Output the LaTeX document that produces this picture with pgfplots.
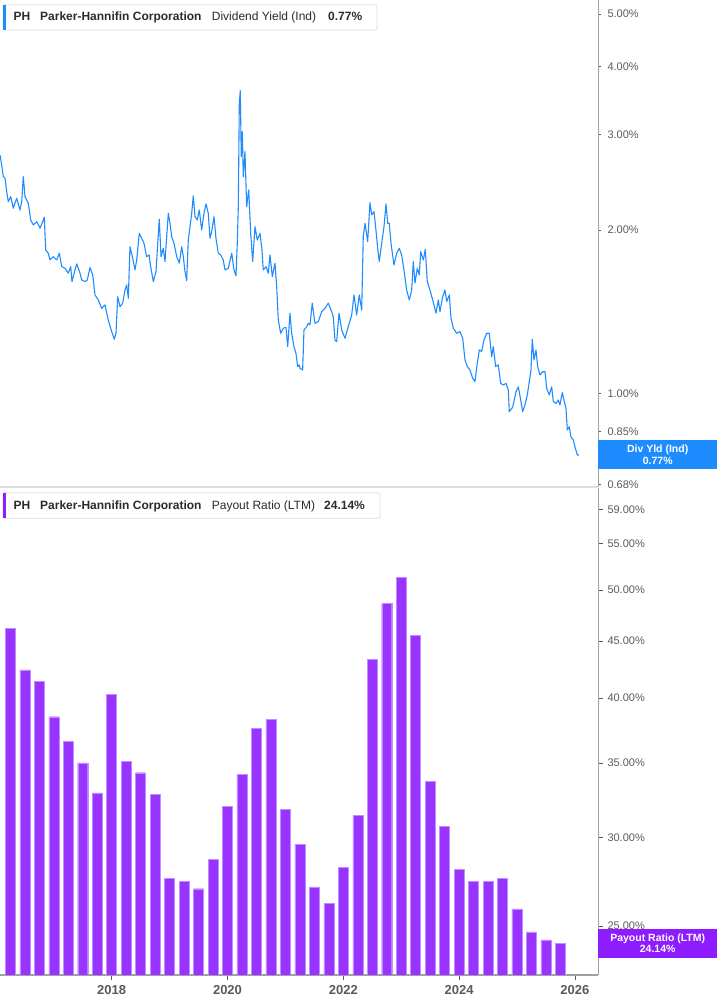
\documentclass[border=0pt]{standalone}
\usepackage{pgfplots}
\pgfplotsset{compat=1.18}
\usepackage{fontspec}
\setmainfont{Liberation Sans}

\definecolor{ylblue}{HTML}{1E8CFF}
\definecolor{barpurple}{HTML}{9933FF}
\definecolor{baredge}{HTML}{C08CFF}
\definecolor{boxpurple}{HTML}{8E1CFF}
\definecolor{axgray}{HTML}{A0A0A0}
\definecolor{sepgray}{HTML}{DEDEDE}
\definecolor{lblgray}{HTML}{5A5A5A}
\definecolor{txt}{HTML}{2B2B2B}

\begin{document}
\begin{tikzpicture}
\useasboundingbox (0pt,0pt) rectangle (717pt,1005pt);

% dividend yield, log scale
\begin{axis}[at={(0pt,518pt)}, anchor=south west,
  scale only axis, width=598pt, height=487pt,
  xmin=2016.071, xmax=2026.399,
  ymode=log, ymin=0.672, ymax=5.306,
  axis x line*=bottom, axis y line*=right,
  x axis line style={draw=sepgray, line width=1.8pt},
  y axis line style={draw=axgray, line width=1pt},
  tick align=outside, major tick length=3pt, minor tick length=0pt,
  xtick=\empty,
  ytick={0.68,0.85,1,2,3,4,5},
  yticklabels={0.68\%,0.85\%,1.00\%,2.00\%,3.00\%,4.00\%,5.00\%},
  ytick style={draw=lblgray, line width=0.6pt},
  yticklabel style={font=\fontsize{11}{13}\selectfont, text=lblgray, anchor=west, xshift=3pt}]
\addplot[ylblue, line width=1.1pt, line join=round] table[x=t, y=v] {
t v
2016.071 2.750
2016.100 2.635
2016.128 2.507
2016.157 2.493
2016.187 2.353
2016.214 2.255
2016.256 2.304
2016.301 2.193
2016.359 2.288
2016.416 2.177
2016.446 2.255
2016.473 2.507
2016.503 2.304
2016.560 2.240
2016.601 2.086
2016.646 2.043
2016.705 2.071
2016.762 2.015
2016.808 2.071
2016.836 2.111
2016.860 1.837
2016.905 1.812
2016.935 1.761
2016.991 1.786
2017.050 1.761
2017.095 1.812
2017.137 1.712
2017.194 1.700
2017.251 1.665
2017.292 1.712
2017.314 1.606
2017.366 1.688
2017.396 1.732
2017.453 1.665
2017.482 1.618
2017.539 1.606
2017.579 1.618
2017.625 1.705
2017.672 1.653
2017.712 1.518
2017.769 1.486
2017.827 1.434
2017.884 1.455
2017.941 1.365
2018.000 1.299
2018.045 1.258
2018.074 1.290
2018.104 1.507
2018.143 1.444
2018.190 1.466
2018.230 1.550
2018.259 1.584
2018.287 1.497
2018.316 1.863
2018.363 1.774
2018.402 1.688
2018.432 1.761
2018.477 1.972
2018.518 1.930
2018.558 1.890
2018.604 1.786
2018.649 1.799
2018.662 1.741
2018.719 1.606
2018.765 1.676
2018.788 1.837
2018.822 2.092
2018.852 1.786
2018.891 1.850
2018.921 1.749
2018.950 1.944
2018.978 2.147
2019.007 2.058
2019.036 1.944
2019.076 1.890
2019.123 1.786
2019.168 1.737
2019.209 1.863
2019.237 1.786
2019.266 1.676
2019.295 1.613
2019.323 1.916
2019.352 2.028
2019.382 2.147
2019.409 2.311
2019.439 2.116
2019.478 2.086
2019.513 2.177
2019.554 2.000
2019.594 2.147
2019.629 2.233
2019.668 2.147
2019.698 1.930
2019.727 1.986
2019.767 2.116
2019.801 1.930
2019.841 1.812
2019.882 1.799
2019.927 1.761
2019.957 1.688
2020.014 1.700
2020.073 1.812
2020.112 1.688
2020.147 1.646
2020.169 1.890
2020.187 2.208
2020.204 3.424
2020.221 3.612
2020.238 2.730
2020.256 3.035
2020.273 2.507
2020.302 2.788
2020.331 2.208
2020.366 2.370
2020.401 1.972
2020.435 1.749
2020.475 2.028
2020.515 1.916
2020.561 1.972
2020.596 1.837
2020.618 1.688
2020.665 1.712
2020.705 1.665
2020.734 1.799
2020.774 1.641
2020.820 1.737
2020.850 1.572
2020.877 1.365
2020.919 1.290
2020.964 1.318
2021.010 1.323
2021.040 1.219
2021.079 1.405
2021.109 1.290
2021.148 1.219
2021.183 1.185
2021.212 1.120
2021.240 1.128
2021.252 1.112
2021.298 1.104
2021.321 1.308
2021.368 1.327
2021.395 1.346
2021.425 1.337
2021.464 1.466
2021.511 1.346
2021.568 1.355
2021.627 1.414
2021.684 1.434
2021.741 1.466
2021.800 1.414
2021.827 1.384
2021.856 1.254
2021.886 1.245
2021.926 1.405
2021.972 1.308
2022.029 1.263
2022.086 1.327
2022.145 1.394
2022.185 1.518
2022.231 1.394
2022.276 1.518
2022.318 1.424
2022.345 1.944
2022.375 2.058
2022.421 1.903
2022.461 2.246
2022.490 2.132
2022.530 2.162
2022.564 2.000
2022.594 1.850
2022.621 1.749
2022.663 1.890
2022.703 2.028
2022.738 2.233
2022.767 2.058
2022.794 2.058
2022.824 1.890
2022.875 1.724
2022.922 1.812
2022.967 1.850
2023.008 1.799
2023.048 1.688
2023.094 1.550
2023.140 1.486
2023.181 1.550
2023.209 1.749
2023.238 1.596
2023.278 1.700
2023.312 1.653
2023.337 1.824
2023.382 1.761
2023.416 1.842
2023.451 1.606
2023.497 1.550
2023.544 1.486
2023.601 1.405
2023.641 1.486
2023.670 1.414
2023.716 1.507
2023.756 1.550
2023.786 1.476
2023.831 1.518
2023.860 1.377
2023.900 1.318
2023.959 1.290
2024.015 1.299
2024.062 1.263
2024.102 1.152
2024.142 1.120
2024.188 1.104
2024.235 1.066
2024.274 1.051
2024.314 1.136
2024.349 1.202
2024.390 1.194
2024.430 1.254
2024.476 1.290
2024.521 1.290
2024.563 1.168
2024.590 1.219
2024.632 1.120
2024.677 1.128
2024.718 1.043
2024.763 1.036
2024.810 1.043
2024.850 1.014
2024.867 0.925
2024.926 0.943
2024.983 1.007
2025.023 1.028
2025.064 0.972
2025.098 0.925
2025.138 0.952
2025.178 0.993
2025.212 1.051
2025.242 1.104
2025.264 1.258
2025.293 1.152
2025.328 1.202
2025.357 1.120
2025.397 1.081
2025.444 1.096
2025.483 1.096
2025.513 1.021
2025.557 0.993
2025.599 1.028
2025.627 0.965
2025.673 0.958
2025.713 0.972
2025.742 0.952
2025.782 1.003
2025.817 0.965
2025.846 0.938
2025.869 0.856
2025.903 0.868
2025.932 0.831
2025.972 0.820
2026.001 0.797
2026.041 0.770
2026.070 0.770
};
\coordinate (dy) at (axis cs:2026.399,0.77);
\end{axis}

% payout ratio, quarterly bars
\begin{axis}[at={(0pt,30pt)}, anchor=south west,
  scale only axis, width=598pt, height=487pt,
  xmin=2016.071, xmax=2026.399,
  ymode=log, ymin=22.6, ymax=61.7, log origin=infty,
  axis x line*=bottom, axis y line*=right,
  x axis line style={draw=axgray, line width=1.2pt},
  y axis line style={draw=axgray, line width=1pt},
  tick align=outside, major tick length=5pt, minor tick length=0pt,
  xtick={2018,2020,2022,2024,2026},
  xticklabels={2018,2020,2022,2024,2026},
  xtick style={draw=lblgray, line width=0.8pt},
  xticklabel style={font=\bfseries\fontsize{13}{15}\selectfont, text=lblgray, yshift=-2pt},
  ytick={25,30,35,40,45,50,55,59},
  yticklabels={25.00\%,30.00\%,35.00\%,40.00\%,45.00\%,50.00\%,55.00\%,59.00\%},
  ytick style={draw=lblgray, line width=0.6pt},
  yticklabel style={font=\fontsize{11}{13}\selectfont, text=lblgray, anchor=west, xshift=1pt}]
\addplot[ybar, bar width=10pt, fill=barpurple, draw=baredge, line width=0.4pt] coordinates {
(2015.97,41.1) (2016.25,46.2) (2016.50,42.4) (2016.75,41.4)
(2017.00,38.5) (2017.25,36.6) (2017.50,35.0) (2017.75,32.9)
(2018.00,40.3) (2018.25,35.1) (2018.50,34.3) (2018.75,32.8)
(2019.00,27.6) (2019.25,27.4) (2019.50,27.0) (2019.75,28.7)
(2020.00,32.0) (2020.25,34.2) (2020.50,37.6) (2020.75,38.3)
(2021.00,31.8) (2021.25,29.6) (2021.50,27.1) (2021.75,26.2)
(2022.00,28.2) (2022.25,31.4) (2022.50,43.3) (2022.75,48.6)
(2023.00,51.3) (2023.25,45.5) (2023.50,33.7) (2023.75,30.7)
(2024.00,28.1) (2024.25,27.4) (2024.50,27.4) (2024.75,27.6)
(2025.00,25.9) (2025.25,24.7) (2025.50,24.3) (2025.75,24.14)
};
\coordinate (pr) at (axis cs:2026.399,24.14);
\end{axis}

% value boxes on the right axis
\node[fill=ylblue, text=white, font=\bfseries\fontsize{10.5}{11.5}\selectfont, align=center,
  anchor=west, minimum width=119pt, minimum height=29pt, inner sep=0pt] at (dy) {Div Yld (Ind)\\0.77\%};
\node[fill=boxpurple, text=white, font=\bfseries\fontsize{10.5}{11.5}\selectfont, align=center,
  anchor=west, minimum width=119pt, minimum height=29pt, inner sep=0pt] at (pr) {Payout Ratio (LTM)\\24.14\%};

% legend boxes
\draw[sepgray, fill=white, rounded corners=2pt, line width=0.8pt] (3pt,975pt) rectangle (377pt,1000.3pt);
\fill[ylblue] (3pt,975.4pt) rectangle (5.6pt,999.9pt);
\node[anchor=base west, inner sep=0pt, text=txt, font=\bfseries\fontsize{12}{14}\selectfont] at (13.3pt,984pt) {PH};
\node[anchor=base west, inner sep=0pt, text=txt, font=\bfseries\fontsize{12}{14}\selectfont] at (40pt,984pt) {Parker-Hannifin Corporation};
\node[anchor=base west, inner sep=0pt, text=txt, font=\fontsize{12}{14}\selectfont] at (211.7pt,984pt) {Dividend Yield (Ind)};
\node[anchor=base west, inner sep=0pt, text=txt, font=\bfseries\fontsize{12}{14}\selectfont] at (328pt,984pt) {0.77\%};

\draw[sepgray, fill=white, rounded corners=2pt, line width=0.8pt] (3pt,486.7pt) rectangle (380pt,512.3pt);
\fill[boxpurple] (3pt,487.1pt) rectangle (5.6pt,511.9pt);
\node[anchor=base west, inner sep=0pt, text=txt, font=\bfseries\fontsize{12}{14}\selectfont] at (13.3pt,495.5pt) {PH};
\node[anchor=base west, inner sep=0pt, text=txt, font=\bfseries\fontsize{12}{14}\selectfont] at (40pt,495.5pt) {Parker-Hannifin Corporation};
\node[anchor=base west, inner sep=0pt, text=txt, font=\fontsize{12}{14}\selectfont] at (211.7pt,495.5pt) {Payout Ratio (LTM)};
\node[anchor=base west, inner sep=0pt, text=txt, font=\bfseries\fontsize{12}{14}\selectfont] at (324pt,495.5pt) {24.14\%};
\end{tikzpicture}
\end{document}
